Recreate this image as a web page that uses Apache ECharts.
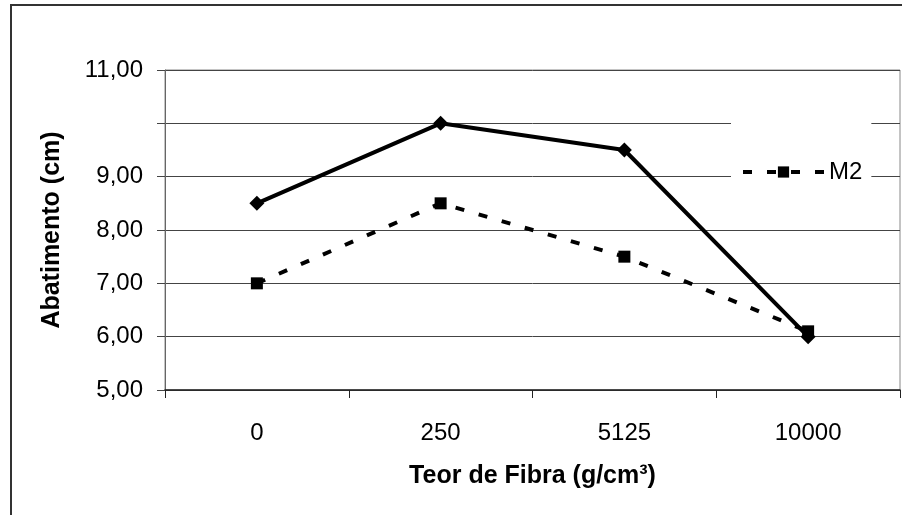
<!DOCTYPE html>
<html>
<head>
<meta charset="utf-8">
<script src="https://cdn.jsdelivr.net/npm/echarts@6/dist/echarts.min.js"></script>
<style>
html,body{margin:0;padding:0;background:#fff;}
#chart{width:902px;height:515px;}
</style>
</head>
<body>
<div id="chart"></div>
<script>
var categories = ['0', '250', '5125', '10000'];
var seriesM1 = [8.5, 10.0, 9.5, 6.0];
var seriesM2 = [7.0, 8.5, 7.5, 6.1];
var yTickValues = [5, 6, 7, 8, 9, 10, 11];
var yTickLabels = ['5,00', '6,00', '7,00', '8,00', '9,00', '', '11,00'];
var xAxisTitle = 'Teor de Fibra (g/cm³)';
var yAxisTitle = 'Abatimento (cm)';

var FONT = "'Liberation Sans', Arial, sans-serif";
var chart = echarts.init(document.getElementById('chart'), null, {renderer: 'canvas'});

chart.setOption({
  animation: false,
  backgroundColor: '#fff',
  textStyle: {fontFamily: FONT, color: '#000'},
  graphic: [{
    type: 'rect',
    shape: {x: 11, y: 5, width: 1000, height: 1000},
    style: {fill: 'none', stroke: '#333', lineWidth: 2},
    silent: true,
    z: -1
  }],
  grid: {
    left: 165, right: 2, top: 70, bottom: 125,
    show: true, borderColor: '#888', borderWidth: 1, backgroundColor: 'transparent'
  },
  legend: {
    data: ['M2'],
    left: 731, top: 112,
    orient: 'vertical',
    backgroundColor: '#fff',
    padding: [48, 9, 28, 10],
    itemWidth: 81, itemHeight: 14,
    lineStyle: {width: 4, type: [9, 15]},
    textStyle: {fontFamily: FONT, fontSize: 24, color: '#000'}
  },
  xAxis: {
    type: 'category',
    data: categories,
    boundaryGap: true,
    name: xAxisTitle,
    nameLocation: 'middle',
    nameGap: 74,
    nameTextStyle: {fontFamily: FONT, fontSize: 25, fontWeight: 'bold', color: '#000'},
    axisLine: {lineStyle: {color: '#222', width: 1.5}},
    axisTick: {show: true, length: 8, lineStyle: {color: '#222'}},
    axisLabel: {margin: 31, fontFamily: FONT, fontSize: 24, color: '#000'},
    splitLine: {show: false}
  },
  yAxis: {
    type: 'value',
    min: 5, max: 11, interval: 1,
    name: yAxisTitle,
    nameLocation: 'middle',
    nameGap: 100,
    nameTextStyle: {fontFamily: FONT, fontSize: 25, fontWeight: 'bold', color: '#000'},
    axisLine: {show: true, lineStyle: {color: '#666', width: 1}},
    axisTick: {show: true, length: 8, inside: false, lineStyle: {color: '#444'}},
    axisLabel: {
      margin: 22, fontFamily: FONT, fontSize: 24, color: '#000',
      formatter: function (v) {
        var i = yTickValues.indexOf(Math.round(v));
        return i >= 0 ? yTickLabels[i] : '';
      }
    },
    splitLine: {show: true, lineStyle: {color: '#444', width: 1}}
  },
  series: [
    {
      name: 'M1',
      type: 'line',
      data: seriesM1,
      symbol: 'diamond',
      symbolSize: 15,
      itemStyle: {color: '#000'},
      lineStyle: {color: '#000', width: 4, type: 'solid'},
      z: 3
    },
    {
      name: 'M2',
      type: 'line',
      data: seriesM2,
      symbol: 'rect',
      symbolSize: 12,
      itemStyle: {color: '#000'},
      lineStyle: {color: '#000', width: 4, type: [9, 15]},
      z: 2
    }
  ]
});
</script>
</body>
</html>
